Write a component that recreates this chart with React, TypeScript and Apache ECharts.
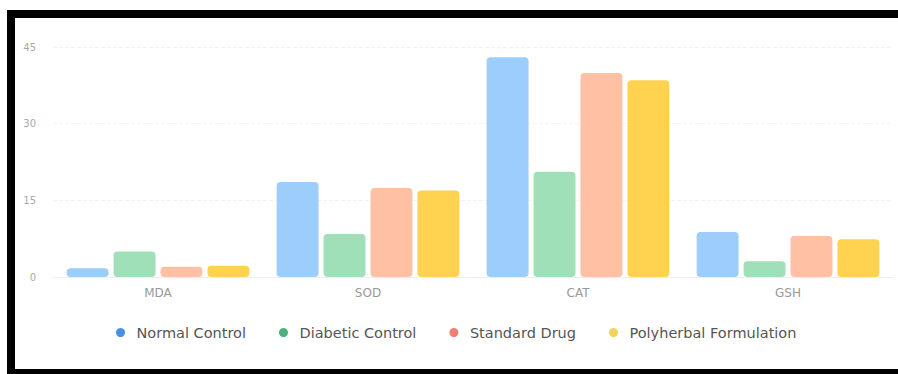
import React, { useEffect, useRef } from "react";
import * as echarts from "echarts";

const categories = ["MDA", "SOD", "CAT", "GSH"];
const seriesNames = ["Normal Control", "Diabetic Control", "Standard Drug", "Polyherbal Formulation"];
const normalControl = [1.7, 18.6, 43.0, 8.8];
const diabeticControl = [5.0, 8.4, 20.6, 3.1];
const standardDrug = [2.0, 17.4, 39.9, 8.0];
const polyherbal = [2.2, 16.9, 38.5, 7.4];
const yTicks = [0, 15, 30, 45];

const barColors = ["#9ccdfb", "#9fe0b9", "#ffc0a3", "#ffd24f"];
const legendColors = ["#4a90e2", "#4caf7d", "#ef7f72", "#f2d35c"];

export default function App() {
  const ref = useRef<HTMLDivElement>(null);
  useEffect(() => {
    if (!ref.current) return;
    const chart = echarts.init(ref.current, undefined, { renderer: "svg" });
    const values = [normalControl, diabeticControl, standardDrug, polyherbal];
    chart.setOption({
      animation: false,
      grid: { left: 38, right: 5, top: 29, bottom: 92 },
      legend: {
        bottom: 24,
        left: 96,
        icon: "circle",
        itemWidth: 22,
        itemHeight: 9,
        itemGap: 33,
        textStyle: { color: "#555", fontSize: 14.5, fontFamily: "DejaVu Sans" },
        data: seriesNames.map((n, i) => ({ name: n, itemStyle: { color: legendColors[i] } })),
      },
      xAxis: {
        type: "category",
        data: categories,
        axisLine: { lineStyle: { color: "#eee" } },
        axisTick: { show: false },
        axisLabel: { color: "#999", fontSize: 12, fontFamily: "DejaVu Sans", margin: 10 },
      },
      yAxis: {
        type: "value",
        min: yTicks[0],
        max: yTicks[yTicks.length - 1],
        interval: 15,
        axisLine: { show: false },
        axisTick: { show: false },
        axisLabel: { color: "#aaa", fontSize: 10, fontFamily: "DejaVu Sans", margin: 17 },
        splitLine: { lineStyle: { color: "#f2f2f2", type: "dashed" } },
      },
      series: seriesNames.map((n, i) => ({
        name: n,
        type: "bar",
        data: values[i],
        barGap: "12%",
        barCategoryGap: "13%",
        itemStyle: { color: barColors[i], borderRadius: 4 },
      })),
    });
    return () => chart.dispose();
  }, []);
  return (
    <div
      style={{
        position: "fixed",
        left: 7,
        top: 10,
        width: 883,
        height: 351,
        borderTop: "8px solid #000",
        borderLeft: "8px solid #000",
        borderBottom: "8px solid #000",
        background: "#fff",
        overflow: "hidden",
      }}
    >
      <div ref={ref} style={{ width: 883, height: 351 }} />
    </div>
  );
}
